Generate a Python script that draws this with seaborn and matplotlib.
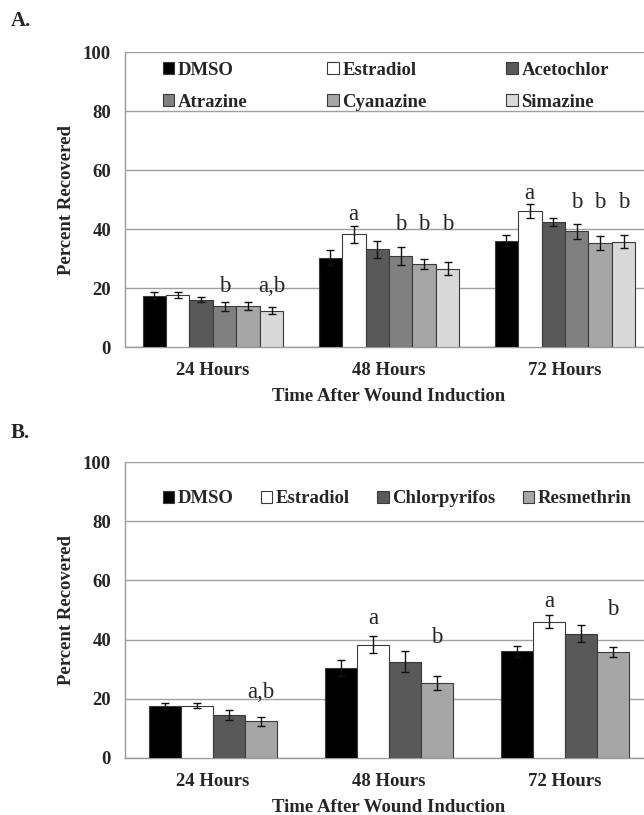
import matplotlib
matplotlib.use('Agg')
import matplotlib.pyplot as plt
import seaborn as sns
import pandas as pd
from matplotlib.ticker import FixedLocator

hours = ['24 Hours', '48 Hours', '72 Hours']

# Panel A
treat_a = ['DMSO', 'Estradiol', 'Acetochlor', 'Atrazine', 'Cyanazine', 'Simazine']
dmso_a = [17.4, 30.4, 36.1]
estradiol_a = [17.6, 38.3, 46.1]
acetochlor_a = [16.1, 33.2, 42.5]
atrazine_a = [13.9, 30.9, 39.3]
cyanazine_a = [14.0, 28.1, 35.2]
simazine_a = [12.4, 26.6, 35.8]
err_dmso_a = [1.2, 2.6, 1.9]
err_estradiol_a = [1.0, 2.9, 2.4]
err_acetochlor_a = [0.9, 2.8, 1.3]
err_atrazine_a = [1.5, 2.9, 2.6]
err_cyanazine_a = [1.4, 1.7, 2.4]
err_simazine_a = [1.2, 2.2, 2.3]
letters_a = {'Estradiol': ['', 'a', 'a'],
             'Atrazine': ['b', 'b', 'b'],
             'Cyanazine': ['', 'b', 'b'],
             'Simazine': ['a,b', 'b', 'b']}

# Panel B
treat_b = ['DMSO', 'Estradiol', 'Chlorpyrifos', 'Resmethrin']
dmso_b = [17.6, 30.3, 36.0]
estradiol_b = [17.7, 38.3, 46.1]
chlorpyrifos_b = [14.5, 32.5, 42.0]
resmethrin_b = [12.4, 25.3, 35.7]
err_dmso_b = [1.1, 2.7, 1.9]
err_estradiol_b = [0.9, 2.8, 2.3]
err_chlorpyrifos_b = [1.7, 3.5, 2.8]
err_resmethrin_b = [1.5, 2.4, 1.7]
letters_b = {'Estradiol': ['', 'a', 'a'],
             'Resmethrin': ['a,b', 'b', 'b']}

colors = {'DMSO': '#000000', 'Estradiol': '#ffffff', 'Acetochlor': '#595959',
          'Atrazine': '#808080', 'Cyanazine': '#a6a6a6', 'Simazine': '#d9d9d9',
          'Chlorpyrifos': '#595959', 'Resmethrin': '#a6a6a6'}


def make_df(names, means, errs):
    rows = []
    for n, m, e in zip(names, means, errs):
        for h, v, s in zip(hours, m, e):
            rows.append({'hour': h, 'treatment': n, 'value': v, 'err': s})
    return pd.DataFrame(rows)


def panel(ax, df, names, width, letters, levels, leg_order, leg_kw):
    sns.barplot(data=df, x='hour', y='value', hue='treatment', hue_order=names,
                palette=[colors[n] for n in names], width=width, errorbar=None,
                saturation=1, edgecolor='#3a3a3a', linewidth=0.8, ax=ax, zorder=3)
    for name, cont in zip(names, ax.containers):
        sub = df[df['treatment'] == name]
        for k, bar in enumerate(cont):
            x = bar.get_x() + bar.get_width() / 2
            ax.errorbar(x, sub['value'].iloc[k], yerr=sub['err'].iloc[k], color='#111111',
                        lw=1, capsize=3.2, capthick=1, zorder=4)
            if name in letters and letters[name][k]:
                lab = letters[name][k]
                y = levels[k][0] if name == 'Estradiol' else levels[k][1]
                ax.text(x, y, lab, ha='center', va='center', fontsize=16.5,
                        fontweight='normal', zorder=5)
    ax.set_ylim(0, 100)
    ax.set_xlim(-0.5, 2.5)
    ax.set_yticks(range(0, 101, 20))
    ax.yaxis.grid(True, color='#a0a0a0', lw=1)
    ax.set_axisbelow(True)
    for s in ['top', 'right']:
        ax.spines[s].set_visible(False)
    for s in ['left', 'bottom']:
        ax.spines[s].set_color('#9a9a9a')
        ax.spines[s].set_linewidth(1)
    ax.tick_params(axis='y', length=4, color='#9a9a9a', pad=6, labelsize=13.5)
    ax.tick_params(axis='x', which='major', length=0, pad=11, labelsize=13.5)
    ax.xaxis.set_minor_locator(FixedLocator([-0.5, 0.5, 1.5, 2.5]))
    ax.tick_params(axis='x', which='minor', length=6, color='#9a9a9a')
    for t in ax.get_xticklabels() + ax.get_yticklabels():
        t.set_fontweight('bold')
    ax.set_xlabel('Time After Wound Induction', fontsize=13.5, fontweight='bold', labelpad=6)
    ax.set_ylabel('Percent Recovered', fontsize=13.5, fontweight='bold', labelpad=6)
    handles, labs = ax.get_legend_handles_labels()
    lookup = dict(zip(labs, handles))
    ax.legend([lookup[n] for n in leg_order], leg_order, frameon=False, loc='upper left',
              borderpad=0, borderaxespad=0, handlelength=0.6, handleheight=0.6,
              handletextpad=0.2, prop={'weight': 'bold', 'size': 13.5}, **leg_kw)


sns.set_theme(style='white')
plt.rcParams['font.family'] = ['Liberation Serif', 'DejaVu Serif']

fig = plt.figure(figsize=(6.44, 8.15), dpi=100)
ax_a = fig.add_axes([0.194, 0.574, 0.820, 0.362])
ax_b = fig.add_axes([0.194, 0.070, 0.820, 0.363])

df_a = make_df(treat_a,
               [dmso_a, estradiol_a, acetochlor_a, atrazine_a, cyanazine_a, simazine_a],
               [err_dmso_a, err_estradiol_a, err_acetochlor_a, err_atrazine_a,
                err_cyanazine_a, err_simazine_a])
df_b = make_df(treat_b,
               [dmso_b, estradiol_b, chlorpyrifos_b, resmethrin_b],
               [err_dmso_b, err_estradiol_b, err_chlorpyrifos_b, err_resmethrin_b])

# letter heights per time point: (estradiol "a", others)
panel(ax_a, df_a, treat_a, 0.8, letters_a, [(20.5, 20.5), (45.0, 41.7), (52.2, 49.1)],
      ['DMSO', 'Atrazine', 'Estradiol', 'Cyanazine', 'Acetochlor', 'Simazine'],
      dict(ncol=3, bbox_to_anchor=(0.072, 0.968), columnspacing=4.25, labelspacing=0.8))
panel(ax_b, df_b, treat_b, 0.73, letters_b, [(22.0, 22.0), (47.0, 40.8), (52.9, 50.1)],
      treat_b, dict(ncol=4, bbox_to_anchor=(0.072, 0.905), columnspacing=1.45))

fig.text(0.016, 0.974, 'A.', fontsize=15, fontweight='bold', va='center')
fig.text(0.016, 0.469, 'B.', fontsize=15, fontweight='bold', va='center')

fig.savefig('out.png', dpi=100)
